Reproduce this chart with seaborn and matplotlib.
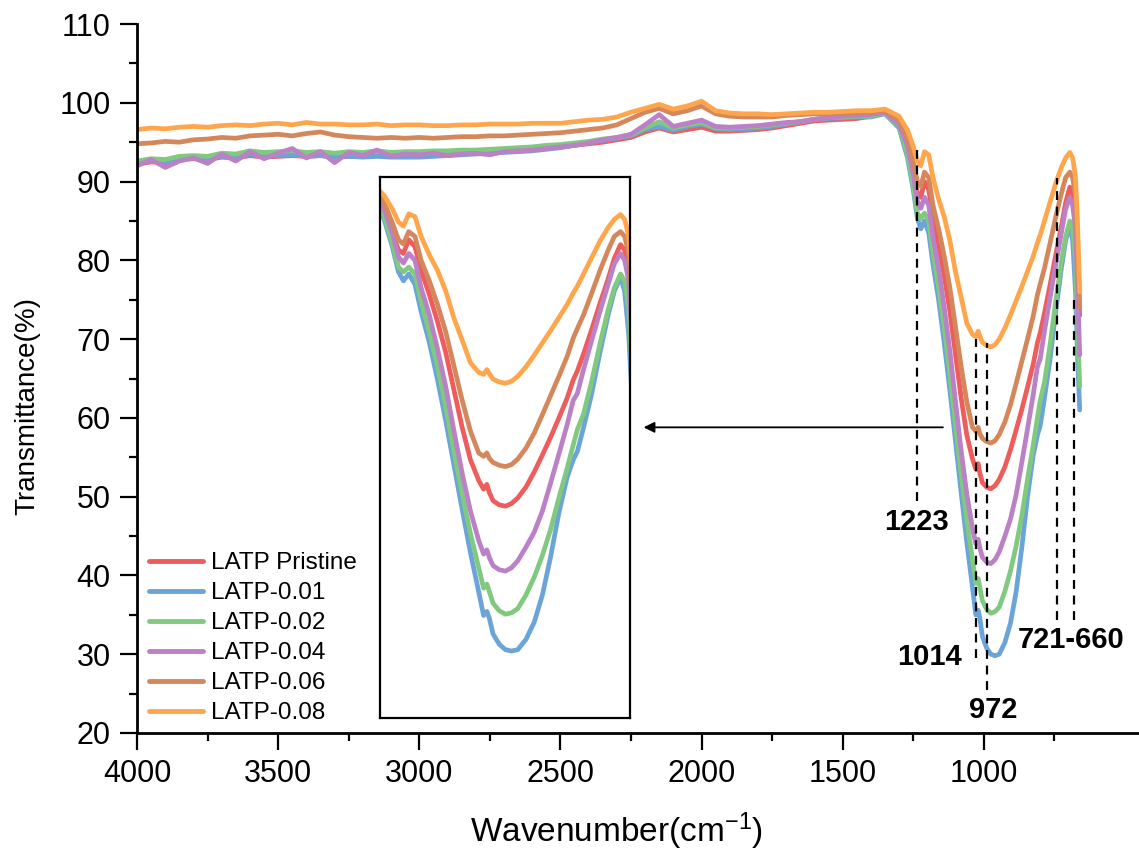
import numpy as np
import pandas as pd
import matplotlib
matplotlib.use("Agg")
import matplotlib.pyplot as plt
from matplotlib.ticker import FixedLocator
import seaborn as sns

# ---------------- data ----------------
wavenumber = [4000, 3950, 3900, 3850, 3800, 3750, 3700, 3650, 3600, 3550, 3500, 3450, 3400,
              3350, 3300, 3250, 3200, 3150, 3100, 3050, 3000, 2950, 2900, 2850, 2800, 2750,
              2700, 2650, 2600, 2550, 2500, 2450, 2400, 2350, 2300, 2250, 2200, 2150, 2100,
              2050, 2000, 1950, 1900, 1850, 1800, 1750, 1700, 1650, 1600, 1550, 1500, 1450,
              1400, 1350, 1300, 1270, 1250, 1235, 1223, 1210, 1195, 1180, 1160, 1140, 1120,
              1100, 1080, 1060, 1040, 1028, 1020, 1014, 1005, 990, 975, 960, 945, 925, 905,
              885, 865, 845, 825, 810, 800, 785, 765, 745, 725, 710, 695, 685, 675, 668, 660]

latp_pristine = [92.2, 92.5, 92.4, 92.8, 92.9, 92.8, 93.1, 93.0, 93.3, 93.1, 93.2, 93.3, 93.2,
                 93.3, 93.1, 93.2, 93.2, 93.3, 93.2, 93.3, 93.3, 93.4, 93.4, 93.5, 93.6, 93.7,
                 93.8, 93.9, 94.0, 94.2, 94.4, 94.6, 94.8, 95.0, 95.3, 95.6, 96.3, 96.8, 96.3,
                 96.6, 96.9, 96.4, 96.4, 96.5, 96.6, 96.8, 97.1, 97.4, 97.7, 97.8, 97.9, 98.0,
                 98.3, 98.8, 97.0, 94.0, 91.0, 88.5, 88.0, 90.0, 89.0, 85.5, 82.0, 78.0, 73.5,
                 68.0, 62.5, 57.8, 54.8, 53.5, 54.2, 53.0, 51.8, 51.2, 51.0, 51.4, 52.2, 53.8,
                 56.0, 58.5, 61.1, 63.9, 66.8, 69.5, 70.8, 73.3, 76.9, 80.7, 84.3, 87.3, 89.3,
                 88.5, 86.0, 80.0, 73.0]

latp_001 = [92.3, 92.6, 92.5, 92.9, 93.0, 92.9, 93.2, 93.0, 93.4, 93.2, 93.3, 93.4, 93.2,
            93.3, 93.1, 93.2, 93.1, 93.2, 93.1, 93.1, 93.1, 93.2, 93.3, 93.4, 93.5, 93.6,
            93.7, 93.8, 93.9, 94.1, 94.3, 94.6, 94.9, 95.2, 95.5, 95.8, 96.6, 97.0, 96.5,
            97.0, 97.3, 96.7, 96.6, 96.7, 96.8, 97.0, 97.3, 97.6, 97.9, 98.0, 98.1, 98.2,
            98.2, 98.6, 96.8, 93.0, 89.0, 85.3, 84.0, 85.0, 83.5, 79.5, 75.0, 69.5, 63.5,
            57.0, 50.5, 44.2, 38.5, 35.0, 35.6, 34.6, 32.3, 30.8, 30.0, 29.8, 30.0, 31.5,
            34.0, 38.0, 43.6, 50.0, 55.2, 57.8, 59.0, 62.5, 67.5, 73.5, 79.0, 82.5, 84.5,
            82.5, 76.0, 68.0, 61.0]

latp_002 = [92.6, 92.9, 92.8, 93.2, 93.3, 93.2, 93.6, 93.5, 93.9, 93.7, 93.8, 93.9, 93.7,
            93.8, 93.6, 93.8, 93.7, 93.9, 93.7, 93.8, 93.8, 93.9, 93.9, 94.0, 94.0, 94.1,
            94.2, 94.3, 94.4, 94.6, 94.7, 94.9, 95.1, 95.4, 95.6, 95.9, 96.8, 97.6, 96.8,
            97.2, 97.5, 96.8, 96.8, 96.9, 97.0, 97.2, 97.4, 97.6, 97.9, 98.1, 98.2, 98.3,
            98.3, 98.7, 97.0, 93.5, 89.5, 86.0, 85.3, 86.0, 85.0, 81.0, 76.5, 71.5, 65.5,
            59.0, 52.8, 47.0, 42.0, 39.0, 39.6, 38.5, 36.8, 35.7, 35.2, 35.4, 36.0, 38.0,
            40.6, 43.8, 47.6, 52.2, 56.5, 60.0, 62.2, 64.5, 69.3, 74.8, 79.8, 83.0, 85.0,
            84.0, 80.0, 72.0, 64.0]

latp_004 = [92.0, 92.8, 91.8, 92.6, 93.0, 92.3, 93.5, 92.6, 93.8, 92.9, 93.6, 94.2, 93.0,
            93.8, 92.4, 93.7, 93.3, 94.0, 93.2, 93.5, 93.4, 93.6, 93.3, 93.5, 93.6, 93.4,
            93.8, 93.9, 94.0, 94.2, 94.4, 94.6, 94.9, 95.3, 95.6, 96.0, 97.2, 98.5, 97.0,
            97.4, 97.8, 97.0, 96.9, 97.0, 97.1, 97.3, 97.5, 97.6, 97.9, 98.1, 98.3, 98.4,
            98.5, 98.8, 97.2, 94.5, 91.0, 87.5, 86.6, 88.0, 87.0, 83.0, 79.0, 74.0, 68.5,
            62.0, 55.8, 50.3, 46.0, 44.0, 44.6, 43.5, 42.3, 41.7, 41.5, 42.0, 43.0, 45.0,
            47.2, 50.3, 54.4, 58.6, 62.9, 66.5, 67.5, 71.0, 75.3, 79.5, 83.5, 86.5, 88.0,
            87.0, 84.0, 77.0, 68.0]

latp_006 = [94.8, 94.9, 95.1, 95.0, 95.3, 95.4, 95.6, 95.5, 95.8, 95.9, 96.0, 95.8, 96.1,
            96.3, 95.9, 95.7, 95.6, 95.5, 95.6, 95.5, 95.6, 95.5, 95.6, 95.7, 95.7, 95.8,
            95.8, 95.9, 96.0, 96.1, 96.2, 96.4, 96.6, 96.8, 97.2, 98.0, 98.8, 99.3, 98.6,
            99.0, 99.6, 98.6, 98.3, 98.2, 98.2, 98.2, 98.4, 98.5, 98.6, 98.6, 98.7, 98.8,
            98.8, 99.0, 97.8, 95.5, 92.5, 90.0, 89.4, 91.2, 90.5, 87.0, 84.0, 80.5, 76.5,
            71.5, 66.5, 62.0, 58.8, 58.3, 58.8, 58.0, 57.4, 57.0, 56.8, 57.1, 57.9, 59.5,
            61.7, 64.4, 67.2, 70.0, 72.9, 75.6, 77.0, 79.0, 82.2, 85.5, 88.5, 90.5, 91.2,
            90.5, 88.0, 82.0, 74.0]

latp_008 = [96.6, 96.8, 96.7, 96.9, 97.0, 96.9, 97.1, 97.2, 97.1, 97.3, 97.4, 97.2, 97.5,
            97.3, 97.3, 97.2, 97.2, 97.3, 97.1, 97.2, 97.2, 97.1, 97.1, 97.2, 97.2, 97.3,
            97.3, 97.3, 97.4, 97.4, 97.4, 97.6, 97.8, 97.9, 98.2, 98.8, 99.3, 99.8, 99.2,
            99.6, 100.2, 99.0, 98.7, 98.6, 98.6, 98.5, 98.6, 98.7, 98.8, 98.8, 98.9, 99.0,
            99.0, 99.2, 98.3, 96.5, 94.5, 92.6, 92.0, 93.8, 93.4, 90.5, 87.8, 85.5, 82.5,
            78.5, 75.3, 72.0, 70.6, 70.3, 71.0, 70.4, 69.6, 69.2, 69.0, 69.3, 70.0, 71.4,
            73.1, 74.9, 76.7, 78.6, 80.5, 82.2, 83.2, 85.0, 87.4, 89.8, 91.8, 93.0, 93.7,
            93.0, 90.5, 85.0, 76.0]

series_names = ["LATP Pristine", "LATP-0.01", "LATP-0.02", "LATP-0.04", "LATP-0.06", "LATP-0.08"]
series_values = [latp_pristine, latp_001, latp_002, latp_004, latp_006, latp_008]
series_colors = ["#EE5C5C", "#6AA4D8", "#80C97E", "#BB80C6", "#D4875A", "#FFA64D"]

# dashed marker lines (drawn position, vertical extent) and their labels
marker_positions = [1237, 1028, 989, 741, 681]
marker_ranges = [(49.5, 94.0), (29.5, 70.0), (25.5, 69.5), (34.3, 90.5), (34.3, 75.0)]
peak_labels = ["1223", "1014", "972", "721-660"]

x_ticks = [4000, 3500, 3000, 2500, 2000, 1500, 1000]
x_minor = [3750, 3250, 2750, 2250, 1750, 1250, 750]
y_ticks = [20, 30, 40, 50, 60, 70, 80, 90, 100, 110]
y_minor = [25, 35, 45, 55, 65, 75, 85, 95, 105]

# ---------------- frame ----------------
rows = []
for name, vals in zip(series_names, series_values):
    for w, v in zip(wavenumber, vals):
        rows.append((name, w, v))
df = pd.DataFrame(rows, columns=["series", "wavenumber", "transmittance"])

sns.set_theme(style="ticks")
plt.rcParams["font.family"] = ["Liberation Sans", "DejaVu Sans"]
plt.rcParams["mathtext.default"] = "regular"
for k in ["text.color", "axes.labelcolor", "xtick.color", "ytick.color", "axes.edgecolor"]:
    plt.rcParams[k] = "black"

fig = plt.figure(figsize=(11.39, 8.52), dpi=100)
ax = fig.add_axes([0.1203, 0.1397, 0.8797, 0.8321])

palette = dict(zip(series_names, series_colors))
sns.lineplot(data=df, x="wavenumber", y="transmittance", hue="series",
             hue_order=series_names, palette=palette, estimator=None,
             sort=False, linewidth=3.4, ax=ax)

ax.set_xlim(4000, 450)
ax.set_ylim(20, 110)
ax.set_xticks(x_ticks)
ax.set_yticks(y_ticks)
ax.xaxis.set_minor_locator(FixedLocator(x_minor))
ax.yaxis.set_minor_locator(FixedLocator(y_minor))
ax.tick_params(axis="both", which="major", length=12, width=1.6, labelsize=22,
               direction="out", pad=7)
ax.tick_params(axis="both", which="minor", length=6, width=1.6, direction="out")
for s in ["top", "right"]:
    ax.spines[s].set_visible(False)
for s in ["left", "bottom"]:
    ax.spines[s].set_linewidth(2.0)
ax.set_xlabel("Wavenumber(cm$^{-1}$)", fontsize=24)
ax.set_ylabel("Transmittance(%)", fontsize=20)
ax.xaxis.set_label_coords(0.479, -0.110)
ax.yaxis.set_label_coords(-0.096, 0.461)

leg = ax.legend(loc="lower left", frameon=False, fontsize=17.5, handlelength=2.2,
                handletextpad=0.35, labelspacing=0.33, borderaxespad=0.1,
                bbox_to_anchor=(0.0, -0.005))
for line in leg.get_lines():
    line.set_linewidth(3.5)

for pos, (y0, y1) in zip(marker_positions, marker_ranges):
    ax.plot([pos, pos], [y0, y1], color="black", linestyle=(0, (4, 3)), linewidth=1.6, zorder=5)

ax.text(1240, 48.5, peak_labels[0], ha="center", va="top", fontsize=21, fontweight="bold")
ax.text(1078, 29.6, peak_labels[1], ha="right", va="center", fontsize=21, fontweight="bold")
ax.text(967, 22.9, peak_labels[2], ha="center", va="center", fontsize=21, fontweight="bold")
ax.text(690, 31.8, peak_labels[3], ha="center", va="center", fontsize=21, fontweight="bold")

ax.annotate("", xy=(2215, 58.8), xytext=(1135, 58.8),
            arrowprops=dict(arrowstyle="-|>", color="black", lw=1.3, mutation_scale=16))

# inset
ax_in = fig.add_axes([0.3336, 0.1573, 0.2195, 0.635])
sns.lineplot(data=df, x="wavenumber", y="transmittance", hue="series",
             hue_order=series_names, palette=palette, estimator=None,
             sort=False, linewidth=3.4, ax=ax_in, legend=False)
ax_in.set_xlim(1280, 672)
ax_in.set_ylim(20, 99.2)
ax_in.set_xticks([])
ax_in.set_yticks([])
ax_in.set_xlabel("")
ax_in.set_ylabel("")
for s in ax_in.spines.values():
    s.set_linewidth(1.6)
    s.set_visible(True)

fig.savefig("out.png", dpi=100)
